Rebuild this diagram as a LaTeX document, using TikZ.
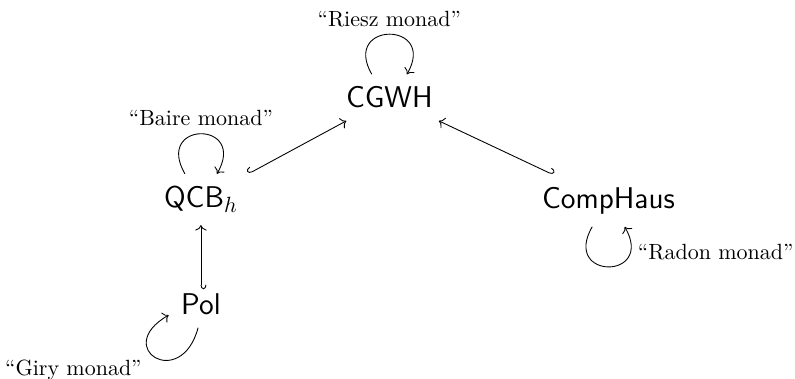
\documentclass[tikz,border=0pt]{standalone}
\usepackage{amsmath,amssymb}
\usepackage{tikz}
\usetikzlibrary{arrows.meta}

\begin{document}
\begin{tikzpicture}[
        obj/.style={inner sep=5.5pt, anchor=base, font=\fontsize{13.64}{16}\selectfont\sffamily},
        inclr/.style={{Hooks[right,width=5pt,length=2pt]}-{Computer Modern Rightarrow}},
        incll/.style={{Hooks[left,width=5pt,length=2pt]}-{Computer Modern Rightarrow}},
        monad/.style={-{Computer Modern Rightarrow}}]
        \useasboundingbox (0,0) rectangle (12.70,-6.04);

        \node[obj] (cgwh) at (6.22,-1.725) {CGWH};
        \node[obj] (qcb) at (3.21,-3.32) {QCB$_h$};
        \node[obj] (comphaus) at (9.72,-3.33) {CompHaus};
        \node[obj] (pol) at (3.21,-5.03) {Pol};

        % inclusions
        \draw[inclr] (qcb) -- (cgwh);
        \draw[incll] (comphaus) -- (cgwh);
        \draw[incll,shorten <=-3.5pt] (pol) -- (qcb);

        % monads
        \draw[monad] (cgwh.127) to[out=120,in=60,distance=28pt]
            node[above] {``Riesz monad''} (cgwh.53);
        \draw[monad] (qcb.122) to[out=120,in=60,distance=28pt]
            node[above] {``Baire monad''} (qcb.58);
        \draw[monad] (comphaus.238) to[out=240,in=300,distance=28pt]
            node[right,pos=0.8] {``Radon monad''} (comphaus.302);
        \draw[monad] (pol.263) to[out=255,in=210,distance=30pt]
            node[below left,pos=0.6] {``Giry monad''} (pol.198);
    \end{tikzpicture}
\end{document}
